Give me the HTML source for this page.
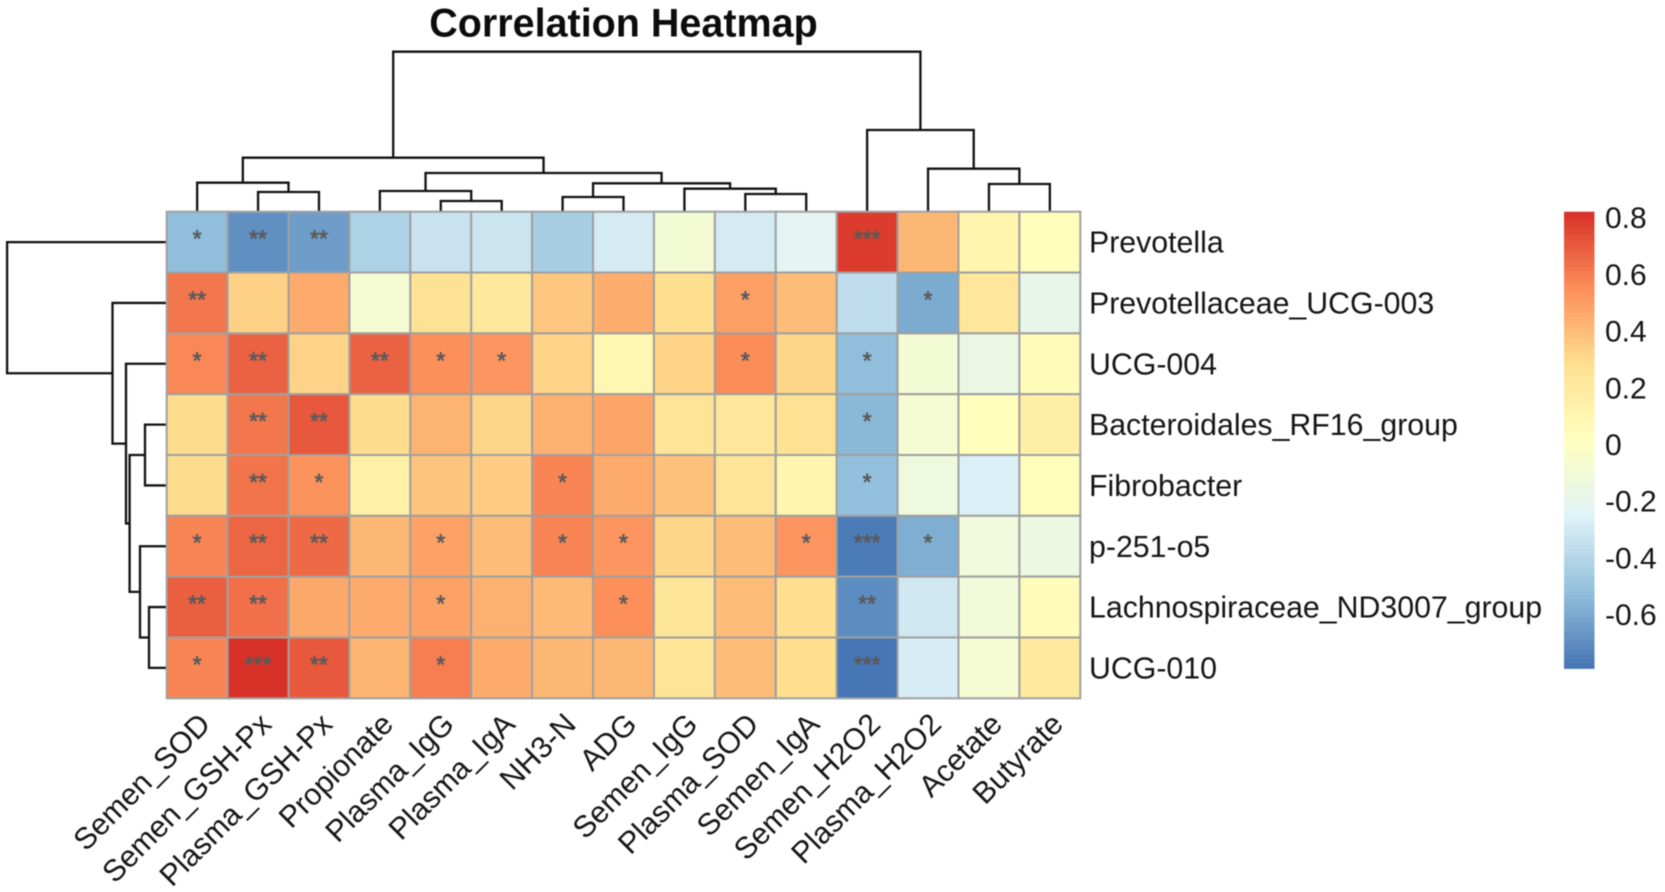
<!DOCTYPE html>
<html lang="en">
<head>
<meta charset="utf-8">
<title>Correlation Heatmap</title>
<style>
html,body{margin:0;padding:0;background:#fff;width:1665px;height:892px;overflow:hidden}
svg{display:block;filter:blur(0.45px)}
text{font-family:"Liberation Sans",Arial,sans-serif;fill:#161616}
</style>
</head>
<body>
<svg id="chart" xmlns="http://www.w3.org/2000/svg" width="1665" height="892" viewBox="0 0 1665 892">
  <rect x="0" y="0" width="1665" height="892" fill="#ffffff"/>
  <text x="623.5" y="36.7" text-anchor="middle" font-size="39.5" font-weight="700" style="fill:#0c0c0c">Correlation Heatmap</text>
  <g id="col-dendrogram"></g>
  <g id="row-dendrogram"></g>
  <g id="cells"></g>
  <g id="stars"></g>
  <g id="row-labels"></g>
  <g id="col-labels"></g>
  <g id="legend"></g>
</svg>
<script>
const columns = ["Semen_SOD","Semen_GSH-Px","Plasma_GSH-Px","Propionate","Plasma_IgG","Plasma_IgA","NH3-N","ADG","Semen_IgG","Plasma_SOD","Semen_IgA","Semen_H2O2","Plasma_H2O2","Acetate","Butyrate"];
const rows = ["Prevotella","Prevotellaceae_UCG-003","UCG-004","Bacteroidales_RF16_group","Fibrobacter","p-251-o5","Lachnospiraceae_ND3007_group","UCG-010"];

const prevotella      = [-.54,-.71,-.66,-.44,-.35,-.34,-.46,-.31,-.10,-.31,-.24,.77,.40,.09,.01];
const prevotellaceae  = [.60,.32,.44,-.09,.25,.20,.35,.43,.27,.48,.38,-.38,-.61,.21,-.20];
const ucg004          = [.55,.66,.31,.66,.53,.51,.31,.08,.31,.54,.30,-.54,-.10,-.17,.03];
const bacteroidales   = [.28,.60,.69,.28,.41,.30,.42,.46,.23,.21,.25,-.56,-.09,.01,.14];
const fibrobacter     = [.28,.61,.52,.13,.36,.33,.56,.44,.37,.23,.09,-.53,-.14,-.29,.02];
const p251o5          = [.56,.65,.64,.40,.47,.38,.56,.51,.30,.38,.51,-.78,-.60,-.13,-.16];
const lachnospiraceae = [.67,.62,.45,.44,.47,.42,.39,.53,.22,.38,.27,-.72,-.33,-.12,.03];
const ucg010          = [.56,.80,.69,.41,.58,.44,.40,.40,.23,.38,.27,-.80,-.30,-.09,.19];
const values = [prevotella,prevotellaceae,ucg004,bacteroidales,fibrobacter,p251o5,lachnospiraceae,ucg010];

const starsPrevotella      = [1,2,2,0,0,0,0,0,0,0,0,3,0,0,0];
const starsPrevotellaceae  = [2,0,0,0,0,0,0,0,0,1,0,0,1,0,0];
const starsUcg004          = [1,2,0,2,1,1,0,0,0,1,0,1,0,0,0];
const starsBacteroidales   = [0,2,2,0,0,0,0,0,0,0,0,1,0,0,0];
const starsFibrobacter     = [0,2,1,0,0,0,1,0,0,0,0,1,0,0,0];
const starsP251o5          = [1,2,2,0,1,0,1,1,0,0,1,3,1,0,0];
const starsLachnospiraceae = [2,2,0,0,1,0,0,1,0,0,0,2,0,0,0];
const starsUcg010          = [1,3,2,0,1,0,0,0,0,0,0,3,0,0,0];
const stars = [starsPrevotella,starsPrevotellaceae,starsUcg004,starsBacteroidales,starsFibrobacter,starsP251o5,starsLachnospiraceae,starsUcg010];

const legendTicks = [0.8,0.6,0.4,0.2,0,-0.2,-0.4,-0.6];
const legendMax = 0.805;
const legendMin = -0.805;

/* hclust-style merges: negative = leaf number, positive = earlier merge number */
const colMergeA = [-2,-1,-5,-4,-7,-10,-9,5,4,2,-14,-13,-12,10];
const colMergeB = [-3,1,-6,3,-8,-11,6,7,8,9,-15,11,12,13];
const colMergeHeight = [19.7,29,10.7,20.7,14.7,17.7,23,28.4,38.7,54,27.7,43,81.7,160];
const rowMergeA = [-7,-6,-4,3,-3,-2,-1];
const rowMergeB = [-8,1,-5,2,4,5,6];
const rowMergeHeight = [17.7,26.7,21.7,37.1,40.7,54.2,159.6];

const NS = "http://www.w3.org/2000/svg";
const gridLeft = 166.7, gridRight = 1080.3, gridTop = 211.7, gridBottom = 698.3;
const colW = (gridRight - gridLeft) / columns.length;
const rowH = (gridBottom - gridTop) / rows.length;
const xCell = i => gridLeft + colW * i;
const yCell = i => gridTop + rowH * i;
const xCenter = i => xCell(i) + colW / 2;
const yCenter = i => yCell(i) + rowH / 2;
const legendLeft = 1564, legendRight = 1594.5, legendTop = 211.7, legendBottom = 668.3;
const yLegend = v => legendTop + (legendMax - v) / (legendMax - legendMin) * (legendBottom - legendTop);

const stopsPos = [-.805,-.537,-.268,0,.268,.537,.805];
const stopsRGB = [[69,117,180],[145,191,219],[224,243,248],[255,255,191],[254,224,144],[252,141,89],[215,48,39]];
function colorOf(v){
  const t = Math.max(legendMin, Math.min(legendMax, v));
  let k = 0;
  while (k < stopsPos.length - 2 && t > stopsPos[k + 1]) k++;
  const f = (t - stopsPos[k]) / (stopsPos[k + 1] - stopsPos[k]);
  const c = stopsRGB[k].map((a, j) => Math.round(a + (stopsRGB[k + 1][j] - a) * f));
  return "rgb(" + c.join(",") + ")";
}
function make(tag, attrs, parent, txt){
  const el = document.createElementNS(NS, tag);
  for (const k in attrs) el.setAttribute(k, attrs[k]);
  if (txt !== undefined) el.textContent = txt;
  parent.appendChild(el);
  return el;
}

/* cells and significance markers */
const cellsG = document.getElementById("cells");
const starsG = document.getElementById("stars");
values.forEach((rowVals, r) => {
  rowVals.forEach((v, c) => {
    const cell = make("rect", {x:xCell(c), y:yCell(r), width:colW, height:rowH, fill:colorOf(v), stroke:"#a0a0a0", "stroke-width":2}, cellsG);
    
    
    const n = stars[r][c];
    if (n > 0) {
      const s = make("text", {x:xCenter(c), y:yCenter(r) + 4.5, "text-anchor":"middle", "font-size":23, style:"fill:#5a5a5a;stroke:#5a5a5a;stroke-width:.7"}, starsG, "*".repeat(n));
      
      
    }
  });
});

/* axis labels */
const rowLabelsG = document.getElementById("row-labels");
rows.forEach((name, r) => {
  const t = make("text", {x:1089, y:yCenter(r) + 10.6, "font-size":30.3}, rowLabelsG, name);
  
  
});
const colLabelsG = document.getElementById("col-labels");
columns.forEach((name, c) => {
  const x = xCenter(c) + 15, y = 726;
  const t = make("text", {x:x, y:y, "text-anchor":"end", "font-size":30.3, transform:"rotate(-45 " + x + " " + y + ")"}, colLabelsG, name);
  
  
});

/* dendrograms */
function layoutTree(mergeA, mergeB, leafPos){
  const pos = [];
  const at = id => id < 0 ? leafPos(-id - 1) : pos[id - 1];
  const hgt = (id, hs) => id < 0 ? 0 : hs[id - 1];
  mergeA.forEach((a, i) => { pos[i] = (at(a) + at(mergeB[i])) / 2; });
  return {at, hgt};
}
const colTree = layoutTree(colMergeA, colMergeB, xCenter);
const colDendro = document.getElementById("col-dendrogram");
const yDendro = h => gridTop - h;
colMergeA.forEach((a, i) => {
  const b = colMergeB[i];
  const h = colMergeHeight[i];
  const d = "M" + colTree.at(a) + " " + yDendro(colTree.hgt(a, colMergeHeight)) +
            "V" + yDendro(h) + "H" + colTree.at(b) + "V" + yDendro(colTree.hgt(b, colMergeHeight));
  const p = make("path", {d:d, fill:"none", stroke:"#111111", "stroke-width":2.3}, colDendro);
  
  
});
const rowTree = layoutTree(rowMergeA, rowMergeB, yCenter);
const rowDendro = document.getElementById("row-dendrogram");
const xDendro = h => gridLeft - h;
rowMergeA.forEach((a, i) => {
  const b = rowMergeB[i];
  const h = rowMergeHeight[i];
  const d = "M" + xDendro(rowTree.hgt(a, rowMergeHeight)) + " " + rowTree.at(a) +
            "H" + xDendro(h) + "V" + rowTree.at(b) + "H" + xDendro(rowTree.hgt(b, rowMergeHeight));
  const p = make("path", {d:d, fill:"none", stroke:"#111111", "stroke-width":2.3}, rowDendro);
  
  
});

/* legend */
const legendG = document.getElementById("legend");
const strips = 100;
for (let i = 0; i < strips; i++) {
  const v = legendMax - (legendMax - legendMin) * (i + .5) / strips;
  const h = (legendBottom - legendTop) / strips;
  const r = make("rect", {x:legendLeft, y:legendTop + i * h, width:legendRight - legendLeft, height:h + .6, fill:colorOf(v)}, legendG);
  
  
}
legendTicks.forEach(v => {
  const t = make("text", {x:1605, y:yLegend(v) + 15, "font-size":30}, legendG, String(v));
  
  
});
</script>
</body>
</html>
